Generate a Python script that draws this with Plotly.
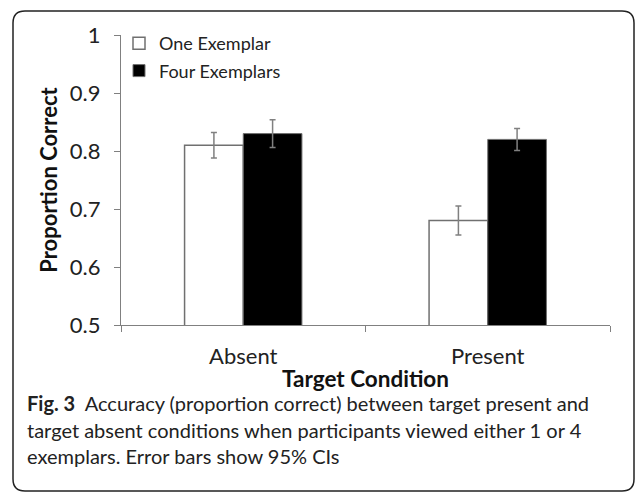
import plotly.graph_objects as go

categories = ["Absent", "Present"]
one_exemplar = [0.81, 0.68]
one_err = [0.022, 0.025]
four_exemplars = [0.83, 0.82]
four_err = [0.024, 0.019]
y_ticks = [0.5, 0.6, 0.7, 0.8, 0.9, 1.0]
y_ticktext = ["0.5", "0.6", "0.7", "0.8", "0.9", "1"]

W, H = 636, 492
L, R, T, B = 121, 26, 35, 167
PW, PH = W - L - R, H - T - B

def px(x):
    return (x - L) / PW

def py(y):
    return (H - B - y) / PH

FONT = "Lato"
GRAY = "#808080"

fig = go.Figure()
fig.add_trace(go.Bar(
    name="One Exemplar", x=categories, y=one_exemplar,
    marker=dict(color="white", line=dict(color="#707070", width=1.5)),
    error_y=dict(type="data", array=one_err, color=GRAY, thickness=1.5, width=3),
    legendgroup="a",
))
fig.add_trace(go.Bar(
    name="Four Exemplars", x=categories, y=four_exemplars,
    marker=dict(color="black", line=dict(color="#707070", width=1)),
    error_y=dict(type="data", array=four_err, color=GRAY, thickness=1.5, width=3),
    legendgroup="b",
))

# rounded border
x0, x1, y0, y1, r = 13, 634, 11, 491, 12
path = (f"M{px(x0+r)},{py(y0)} L{px(x1-r)},{py(y0)} Q{px(x1)},{py(y0)} {px(x1)},{py(y0+r)} "
        f"L{px(x1)},{py(y1-r)} Q{px(x1)},{py(y1)} {px(x1-r)},{py(y1)} "
        f"L{px(x0+r)},{py(y1)} Q{px(x0)},{py(y1)} {px(x0)},{py(y1-r)} "
        f"L{px(x0)},{py(y0+r)} Q{px(x0)},{py(y0)} {px(x0+r)},{py(y0)} Z")
fig.add_shape(type="path", path=path, xref="paper", yref="paper",
              line=dict(color="#222", width=1.5))

caption = [
    "<b>Fig. 3</b>  Accuracy (proportion correct) between target present and",
    "target absent conditions when participants viewed either 1 or 4",
    "exemplars. Error bars show 95% CIs",
]
for i, line in enumerate(caption):
    fig.add_annotation(text=line, xref="paper", yref="paper",
                       x=px(25), y=py(403 + i * 26.5), xanchor="left", yanchor="middle",
                       showarrow=False, font=dict(family=FONT, size=20, color="#222"))

fig.update_layout(
    width=W, height=H,
    margin=dict(l=L, r=R, t=T, b=B),
    paper_bgcolor="white", plot_bgcolor="white",
    barmode="group", bargap=0.52, bargroupgap=0,
    font=dict(family=FONT, color="#222"),
    showlegend=True,
    legend=dict(x=px(119), y=py(25), xanchor="left", yanchor="top",
                font=dict(family=FONT, size=18, color="#222"),
                tracegroupgap=1, bgcolor="rgba(0,0,0,0)"),
    xaxis=dict(
        range=[-0.5, 1.5], showline=True, linecolor=GRAY, linewidth=1.2,
        ticks="outside", tickson="boundaries", ticklen=6, tickcolor=GRAY,
        ticklabelstandoff=11,
        tickfont=dict(family=FONT, size=22, color="#222"),
        title=dict(text="<b>Target Condition</b>", font=dict(family=FONT, size=22.5, color="#111"), standoff=3),
        showgrid=False,
    ),
    yaxis=dict(
        range=[0.5, 1.0], tickvals=y_ticks, ticktext=y_ticktext,
        showline=True, linecolor=GRAY, linewidth=1.2,
        ticks="outside", ticklen=6, tickcolor=GRAY,
        ticklabelstandoff=9,
        tickfont=dict(family=FONT, size=22, color="#222"),
        title=dict(text="<b>Proportion Correct</b>", font=dict(family=FONT, size=22, color="#111"), standoff=6),
        showgrid=False, zeroline=False,
    ),
)

fig.write_html("out.html", config={"displayModeBar": False},
               post_script="document.body.style.margin='0';document.body.style.overflow='hidden';")
